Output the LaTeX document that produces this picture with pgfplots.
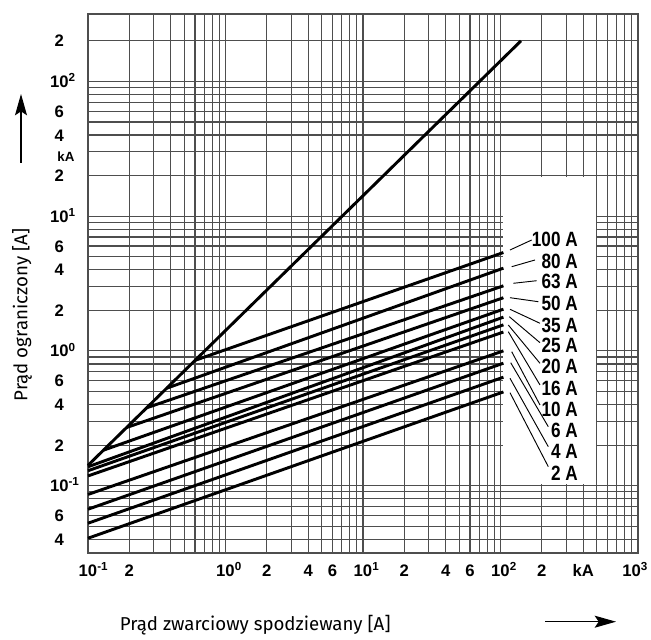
\documentclass[border=0pt]{standalone}
\usepackage{fontspec}
\setmainfont{Fira Sans}
\newfontfamily\tickfont{Liberation Sans}
\newfontfamily\curvefont[FakeStretch=0.83]{Liberation Sans}
\usepackage{pgfplots}
\pgfplotsset{compat=1.18}
\usetikzlibrary{calc,arrows.meta}

\definecolor{GridGray}{RGB}{78,78,78}
% power-of-ten label: the "10" sits on the tick, the exponent hangs right
\newcommand{\pw}[1]{10\rlap{\textsuperscript{#1}}}

\begin{document}
\begin{tikzpicture}
\begin{axis}[
  name=ax, at={(0,0)}, anchor=south west,
  scale only axis, width=412.5pt, height=404.25pt,
  xmode=log, ymode=log,
  xmin=0.1, xmax=1000, ymin=0.031623, ymax=316.23,
  xtick={0.1,0.2,1,2,4,6,10,20,40,60,100,200,400,1000},
  xticklabels={\pw{-1},2,\pw{0},2,4,6,\pw{1},2,4,6,\pw{2},2,kA,\makebox[0pt][r]{10\textsuperscript{3}\hspace*{-7.5pt}}},
  minor xtick={0.3,0.4,0.5,0.6,0.7,0.8,0.9,3,5,7,8,9,30,50,70,80,90,300,500,600,700,800,900},
  ytick={0.04,0.06,0.1,0.2,0.4,0.6,1,2,4,6,10,20,40,60,100,200},
  yticklabels={4,6,\pw{-1},2,4,6,\pw{0},2,4,6,\pw{1},2,4,6,\pw{2},2},
  minor ytick={0.05,0.07,0.08,0.09,0.3,0.5,0.7,0.8,0.9,3,5,7,8,9,30,50,70,80,90},
  grid=both,
  major grid style={line width=0.85pt, GridGray},
  minor grid style={line width=0.85pt, GridGray},
  axis line style={line width=0.85pt, GridGray},
  major tick length=0pt, minor tick length=0pt,
  tick label style={font=\tickfont\bfseries\fontsize{12.5}{14}\selectfont},
  xticklabel style={anchor=base, yshift=-17.6pt},
  yticklabel style={anchor=base, xshift=-21.5pt, yshift=-4.5pt},
  xlabel={Prąd zwarciowy spodziewany [A]},
  ylabel={Prąd ograniczony [A]},
  label style={font=\fontsize{14}{16}\selectfont},
  xlabel style={at={(rel axis cs:0.304,-0.134)}, anchor=center},
  ylabel style={at={(rel axis cs:-0.12,0.4416)}, anchor=center},
  clip=false,
]
% label area left free of grid lines
\fill[white] (axis cs:105,0.102) rectangle (axis cs:495,19.6);

% unlimited peak current
\addplot[black, line width=2.2pt] coordinates {(0.1,0.1414) (141,200)};

% let-through current of the fuse ratings
\addplot[black, line width=2.2pt] coordinates {(0.60,0.85) (105,5.37)};   % 100 A
\addplot[black, line width=2.2pt] coordinates {(0.373,0.528) (105,4.11)}; % 80 A
\addplot[black, line width=2.2pt] coordinates {(0.267,0.378) (105,3.04)}; % 63 A
\addplot[black, line width=2.2pt] coordinates {(0.191,0.27) (105,2.48)};  % 50 A
\addplot[black, line width=2.2pt] coordinates {(0.129,0.183) (105,2.04)}; % 35 A
\addplot[black, line width=2.2pt] coordinates {(0.1,0.138) (105,1.78)};   % 25 A
\addplot[black, line width=2.2pt] coordinates {(0.1,0.129) (105,1.56)};   % 20 A
\addplot[black, line width=2.2pt] coordinates {(0.1,0.118) (105,1.38)};   % 16 A
\addplot[black, line width=2.2pt] coordinates {(0.1,0.086) (105,1.0)};    % 10 A
\addplot[black, line width=2.2pt] coordinates {(0.1,0.0668) (105,0.81)};  % 6 A
\addplot[black, line width=2.2pt] coordinates {(0.1,0.0526) (105,0.638)}; % 4 A
\addplot[black, line width=2.2pt] coordinates {(0.1,0.0407) (105,0.496)}; % 2 A
\end{axis}

% annotations in pixel units of the reference (origin top left)
\begin{scope}[shift={($(ax.south west)+(-66pt,414.75pt)$)}, x=0.75pt, y=-0.75pt]
  \path (0,0) rectangle (651,640);
  \foreach \t/\ly/\ax/\ay/\bx/\by in {
      100 A/239.3/510/250/531.7/240,
      80 A/261/511.7/266.7/535/260,
      63 A/281.7/513.3/283.3/536.7/280.7,
      50 A/303.3/510/297.7/538.3/301.7,
      35 A/325/510/309.3/540/323.3,
      25 A/345.7/509.3/316.7/540/342.7,
      20 A/366.7/508.3/325/540/363.3,
      16 A/388.3/508.3/331.7/540/385,
      10 A/409.3/511.7/351.7/540/405,
      6 A/430.7/510.7/362.7/548.3/426.7,
      4 A/451.7/510/378.3/548.3/446.7,
      2 A/473.3/510/392.7/548.3/466.7}{
    \draw[black, line width=0.7pt] (\ax,\ay) -- (\bx,\by);
    \node[anchor=east, inner sep=0pt, font=\curvefont\bfseries\fontsize{15.5}{16}\selectfont] at (578,\ly) {\t};
  }
  \node[inner sep=0pt, font=\tickfont\bfseries\fontsize{10}{11}\selectfont] at (66,157) {kA};
  \draw[line width=0.8pt, -{Stealth[length=16pt, width=9pt, inset=3pt]}] (21,163) -- (21,94);
  \draw[line width=0.8pt, -{Stealth[length=16pt, width=9pt, inset=3pt]}] (545,621.7) -- (616,621.7);
\end{scope}
\end{tikzpicture}
\end{document}
